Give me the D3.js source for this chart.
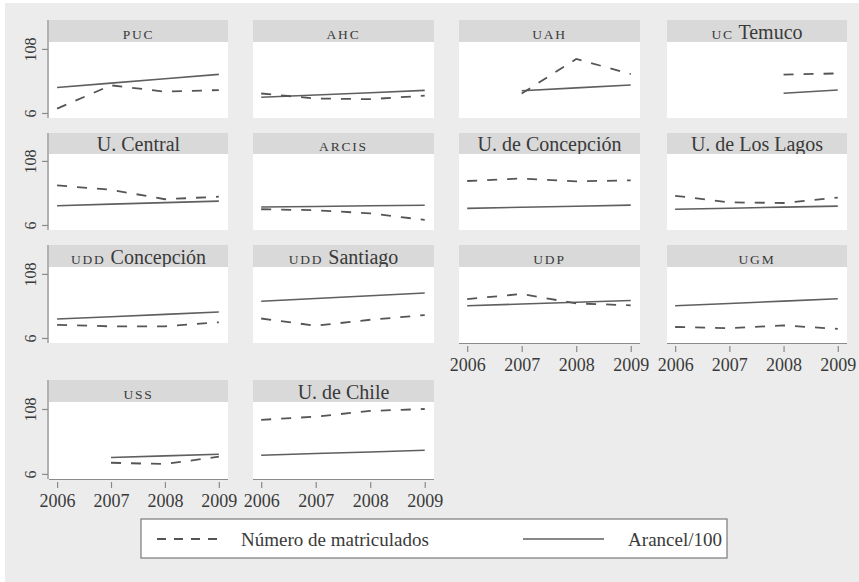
<!DOCTYPE html>
<html>
<head>
<meta charset="utf-8">
<script src="https://cdn.jsdelivr.net/npm/d3@7"></script>
<style>
  html, body { margin: 0; padding: 0; background: #ffffff; }
  svg { display: block; }
  text { font-family: "Liberation Serif", "DejaVu Serif", serif; fill: #3a3a3a; }
</style>
</head>
<body>
<svg id="chart" width="859" height="582"></svg>
<script>
// Years on the x axis
const years = [2006, 2007, 2008, 2009];

// One panel per university, in reading order
const universities = [
  "PUC", "AHC", "UAH", "UC Temuco",
  "U. Central", "ARCIS", "U. de Concepción", "U. de Los Lagos",
  "UDD Concepción", "UDD Santiago", "UDP", "UGM",
  "USS", "U. de Chile"
];

// Número de matriculados (null = no data that year)
const matriculados = [
  [13, 50, 40, 42.5],
  [37, 29, 28, 33.5],
  [null, 37, 92, 68],
  [null, null, 67, 69],
  [69, 62, 47, 51],
  [31, 29.5, 24.5, 14],
  [76, 80, 75.5, 77],
  [52.5, 42, 41, 49.5],
  [27, 24.5, 24.5, 31],
  [37, 25.5, 35, 42.5],
  [68, 76, 61, 58],
  [23.5, 21.5, 26, 20.5],
  [null, 23.5, 21.5, 33],
  [91, 96, 105, 108]
];

// Arancel / 100
const arancel = [
  [46.5, 53.5, 60.5, 67.5],
  [31, 34.7, 38.3, 42],
  [null, 41.5, 46, 50.5],
  [null, null, 37.5, 42.5],
  [36.7, 39.2, 41.6, 44],
  [34.5, 35.5, 36.5, 37.5],
  [32.5, 34.2, 35.9, 37.6],
  [31, 32.7, 34.4, 36],
  [36.2, 39.9, 43.6, 47.3],
  [64.4, 68.8, 73.3, 77.7],
  [57.3, 60.1, 62.9, 65.7],
  [57.3, 61, 64.7, 68.4],
  [null, 31.7, 34.3, 37],
  [35.4, 38, 40.5, 43.1]
];

const yTicks = [6, 108];
const legendLabels = ["Número de matriculados", "Arancel/100"];

const svg = d3.select("#chart");

// page background
svg.append("rect").attr("x", 5).attr("y", 3).attr("width", 854).attr("height", 579)
  .attr("fill", "#ececec");

// grid geometry
const colX = [[49, 228], [253, 434], [459, 640], [667, 847]];
const rowY = [
  { head: 20, top: 42, bottom: 118 },
  { head: 133, top: 154, bottom: 230 },
  { head: 245, top: 267, bottom: 343 },
  { head: 380, top: 402, bottom: 479 }
];
const headColor = "#d9d9d9";
const lineColor = "#5f5f5f";
const dashColor = "#555555";
const axisColor = "#8a8a8a";

// header labels: all-caps acronyms are set in small caps
function writeTitle(sel, label) {
  const words = label.split(" ");
  words.forEach((w, i) => {
    const isAcr = /^[A-ZÁÉÍÓÚ]{2,}$/.test(w);
    sel.append("tspan")
      .text((i > 0 ? " " : "") + w)
      .attr("font-size", isAcr ? 13.5 : 20)
      .attr("letter-spacing", isAcr ? 1.8 : 0);
  });
}

universities.forEach((name, i) => {
  const c = i % 4, r = Math.floor(i / 4);
  const [x0, x1] = colX[c];
  const row = rowY[r];

  const x = d3.scaleLinear().domain([2005.85, 2009.17]).range([x0, x1]);
  const y = d3.scaleLinear().domain([-2, 119]).range([row.bottom, row.top]);

  const g = svg.append("g");

  // header strip
  g.append("rect").attr("x", x0).attr("y", row.head)
    .attr("width", x1 - x0).attr("height", row.top - row.head)
    .attr("fill", headColor);
  const t = g.append("text")
    .attr("x", (x0 + x1) / 2).attr("y", row.top - 3.5)
    .attr("text-anchor", "middle");
  writeTitle(t, name);

  // plot area
  g.append("rect").attr("x", x0).attr("y", row.top)
    .attr("width", x1 - x0).attr("height", row.bottom - row.top)
    .attr("fill", "#ffffff");

  const line = d3.line()
    .defined(d => d.v != null)
    .x(d => x(d.year))
    .y(d => y(d.v));

  const mat = years.map((yr, k) => ({ year: yr, v: matriculados[i][k] }));
  const ara = years.map((yr, k) => ({ year: yr, v: arancel[i][k] }));

  g.append("path").datum(ara).attr("d", line)
    .attr("fill", "none").attr("stroke", lineColor).attr("stroke-width", 1.6);
  g.append("path").datum(mat).attr("d", line)
    .attr("fill", "none").attr("stroke", dashColor).attr("stroke-width", 1.8)
    .attr("stroke-dasharray", "10,10");

  // y axis on the first column
  if (c === 0) {
    g.append("line").attr("x1", x0 - 1).attr("x2", x0 - 1)
      .attr("y1", row.head).attr("y2", row.bottom)
      .attr("stroke", axisColor).attr("stroke-width", 1.2);
    const ya = g.append("g").attr("transform", `translate(${x0 - 1},0)`)
      .call(d3.axisLeft(y).tickValues(yTicks).tickSize(6).tickPadding(4));
    ya.select(".domain").remove();
    ya.selectAll(".tick line").attr("stroke", axisColor).attr("stroke-width", 1.2);
    ya.selectAll(".tick text")
      .attr("font-family", "Liberation Serif, serif")
      .attr("font-size", 16).attr("fill", "#3a3a3a")
      .attr("text-anchor", "middle")
      .attr("transform", "rotate(-90)")
      .attr("x", 0).attr("y", -18).attr("dy", "0.35em");
  }

  // x axis on the lowest panel of each column
  const lowest = (r === 3) || (r === 2 && c >= 2);
  if (lowest) {
    const xa = g.append("g").attr("transform", `translate(0,${row.bottom})`)
      .call(d3.axisBottom(x).tickValues(years).tickFormat(d3.format("d"))
        .tickSize(9).tickPadding(6));
    xa.select(".domain").attr("stroke", axisColor).attr("stroke-width", 1.2)
      .attr("d", `M${x0},0.5H${x1}`);
    xa.selectAll(".tick line").attr("stroke", axisColor).attr("stroke-width", 1.2)
      .attr("y1", 3);
    xa.selectAll(".tick text")
      .attr("font-family", "Liberation Serif, serif")
      .attr("font-size", 18).attr("fill", "#3a3a3a");
  }
});

// legend
const lg = svg.append("g");
lg.append("rect").attr("x", 141).attr("y", 519).attr("width", 586).attr("height", 39)
  .attr("fill", "#ffffff").attr("stroke", "#7a7a7a").attr("stroke-width", 1.2);
lg.append("line").attr("x1", 157).attr("x2", 223).attr("y1", 539).attr("y2", 539)
  .attr("stroke", dashColor).attr("stroke-width", 1.8).attr("stroke-dasharray", "9,8");
lg.append("text").attr("x", 241).attr("y", 546).attr("font-size", 19).text(legendLabels[0]);
lg.append("line").attr("x1", 523).attr("x2", 604).attr("y1", 539).attr("y2", 539)
  .attr("stroke", lineColor).attr("stroke-width", 1.6);
lg.append("text").attr("x", 722).attr("y", 546).attr("font-size", 19)
  .attr("text-anchor", "end").text(legendLabels[1]);
</script>
</body>
</html>
